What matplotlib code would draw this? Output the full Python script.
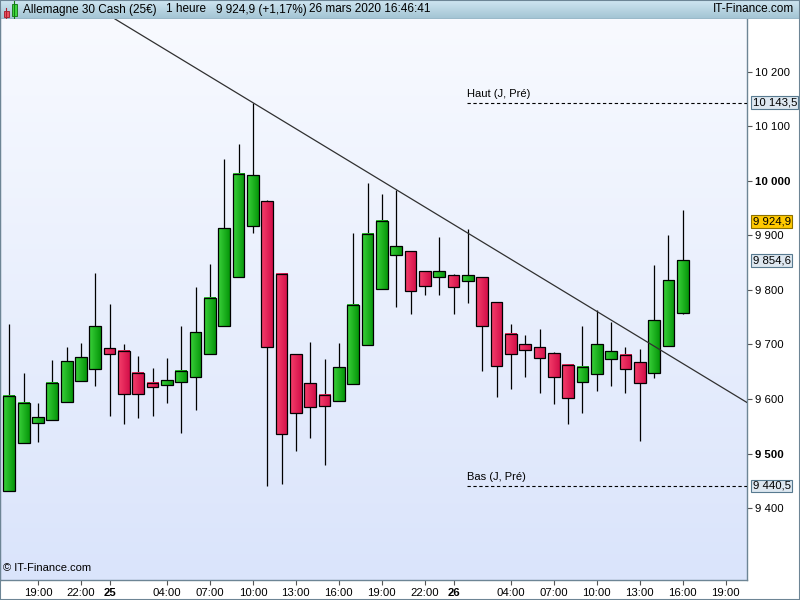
import matplotlib
matplotlib.use('Agg')
import matplotlib.pyplot as plt
import numpy as np
import pandas as pd
from matplotlib.patches import Rectangle
from matplotlib.colors import LinearSegmentedColormap
from matplotlib.transforms import blended_transform_factory

plt.rcParams['font.family'] = ['Liberation Sans', 'DejaVu Sans']

# ---------------- data ----------------
times = pd.date_range('2020-03-24 17:00', '2020-03-26 16:00', freq='h')
opens = [9431, 9519, 9556, 9562, 9595, 9633, 9655, 9694, 9688, 9648,
         9630, 9626, 9631, 9641, 9683, 9734, 9823, 9918, 9963, 9830,
         9683, 9630, 9608, 9597, 9628, 9699, 9802, 9865, 9872, 9835,
         9823, 9828, 9817, 9823, 9778, 9720, 9701, 9696, 9685, 9663,
         9631, 9646, 9674, 9681, 9668, 9648, 9698, 9758]
highs = [9737, 9647, 9593, 9671, 9696, 9702, 9832, 9775, 9700, 9678,
         9656, 9676, 9733, 9805, 9847, 10040, 10067, 10143.5, 9965, 9830,
         9683, 9704, 9674, 9702, 9904, 9996, 9976, 9984, 9872, 9835,
         9898, 9830, 9911, 9823, 9778, 9737, 9718, 9729, 9686, 9663,
         9733, 9764, 9742, 9696, 9692, 9846, 9900, 9946]
lows = [9431, 9519, 9522, 9562, 9595, 9633, 9623, 9568, 9555, 9565,
        9568, 9592, 9537, 9579, 9683, 9734, 9823, 9905, 9440.5, 9444,
        9504, 9528, 9479, 9597, 9628, 9699, 9802, 9769, 9756, 9791,
        9791, 9756, 9776, 9652, 9603, 9618, 9640, 9611, 9591, 9554,
        9575, 9615, 9623, 9611, 9523, 9639, 9698, 9756]
closes = [9606, 9593, 9567, 9630, 9670, 9677, 9733, 9683, 9609, 9609,
          9622, 9635, 9652, 9723, 9786, 9913, 10012, 10010, 9696, 9536,
          9575, 9586, 9587, 9659, 9773, 9903, 9927, 9880, 9799, 9808,
          9834, 9806, 9828, 9734, 9661, 9683, 9690, 9676, 9641, 9602,
          9659, 9701, 9688, 9655, 9630, 9745, 9819, 9854.6]

prev_high = 10143.5
prev_low = 9440.5
last_price = 9924.9
last_close = 9854.6
trend_anchor_idx = [17, 27]          # highs joined by the trendline
levels_start_time = pd.Timestamp('2020-03-26 00:57')

yticks = [9400, 9500, 9600, 9700, 9800, 9900, 10000, 10100, 10200]
bold_yticks = [9500, 10000]
xtick_times = ['2020-03-24 19:00', '2020-03-24 22:00', '2020-03-25 00:00',
               '2020-03-25 04:00', '2020-03-25 07:00', '2020-03-25 10:00',
               '2020-03-25 13:00', '2020-03-25 16:00', '2020-03-25 19:00',
               '2020-03-25 22:00', '2020-03-26 00:00', '2020-03-26 04:00',
               '2020-03-26 07:00', '2020-03-26 10:00', '2020-03-26 13:00',
               '2020-03-26 16:00', '2020-03-26 19:00']
xtick_labels = ['19:00', '22:00', '25', '04:00', '07:00', '10:00', '13:00',
                '16:00', '19:00', '22:00', '26', '04:00', '07:00', '10:00',
                '13:00', '16:00', '19:00']
bold_xlabels = ['25', '26']

title_parts = ['Allemagne 30 Cash (25€)', '1 heure', '9 924,9 (+1,17%)',
               '26 mars 2020 16:46:41']

# ---------------- figure ----------------
W, H = 800, 600
fig = plt.figure(figsize=(8, 6), dpi=100)
fig.patch.set_facecolor('white')

ax_left, ax_right = 0, 747
ax_top, ax_bottom = 19, 580
ax = fig.add_axes([ax_left / W, (H - ax_bottom) / H,
                   (ax_right - ax_left) / W, (ax_bottom - ax_top) / H])

t0 = times[0]
def tpos(t):
    return (pd.Timestamp(t) - t0) / pd.Timedelta(hours=1)

x = np.arange(len(times))
xlim = (-0.65, 51.48)
ylim = (9268, 10297)

bg_cmap = LinearSegmentedColormap.from_list('bg', ['#dae4fb', '#f8faff'])
ax.imshow(np.linspace(0, 1, 256).reshape(-1, 1), extent=[*xlim, *ylim],
          origin='lower', aspect='auto', cmap=bg_cmap, zorder=0)

green_cmap = LinearSegmentedColormap.from_list('g', ['#3ad23a', '#06960a'])
red_cmap = LinearSegmentedColormap.from_list('r', ['#f63f6c', '#d20f48'])
grad = np.linspace(0, 1, 32).reshape(1, -1)

bw = 0.82
ax.vlines(x, lows, highs, color='black', lw=0.9, zorder=2)
for i in range(len(x)):
    o, c = opens[i], closes[i]
    lo, hi = min(o, c), max(o, c)
    if hi - lo < 4:
        hi = lo + 4
    cm = green_cmap if c >= o else red_cmap
    ax.imshow(grad, extent=[x[i] - bw / 2, x[i] + bw / 2, lo, hi],
              aspect='auto', cmap=cm, zorder=3)
    ax.add_patch(Rectangle((x[i] - bw / 2, lo), bw, hi - lo, fill=False,
                           edgecolor='black', lw=0.9, zorder=4))

# trendline
i1, i2 = trend_anchor_idx
ax.axline((x[i1], highs[i1]), (x[i2], highs[i2]), color='#303030', lw=0.9,
          zorder=5)

# previous day high / low
xs = tpos(levels_start_time)
for lvl, lab in [(prev_high, 'Haut (J, Pré)'), (prev_low, 'Bas (J, Pré)')]:
    ax.plot([xs, xlim[1]], [lvl, lvl], color='black', lw=0.8,
            dashes=(3, 2.3), zorder=5)
    ax.annotate(lab, (xs, lvl), xytext=(0, 3), textcoords='offset points',
                fontsize=8, va='bottom', ha='left', color='black')

ax.set_xlim(*xlim)
ax.set_ylim(*ylim)

# axes styling
for s in ['left', 'right', 'bottom']:
    ax.spines[s].set_color('#6d8595')
    ax.spines[s].set_linewidth(1)
ax.spines['top'].set_visible(False)

ax.yaxis.tick_right()
ax.set_yticks(yticks)
ax.set_yticklabels([f'{v:,}'.replace(',', ' ') for v in yticks])
for lbl, v in zip(ax.get_yticklabels(), yticks):
    if v in bold_yticks:
        lbl.set_fontweight('bold')
        lbl.set_fontsize(8.6)
ax.tick_params(axis='y', direction='out', length=3.5, width=0.8,
               color='#555555', labelsize=8.2, pad=2)

ax.set_xticks([tpos(t) for t in xtick_times])
ax.set_xticklabels(xtick_labels)
for lbl in ax.get_xticklabels():
    if lbl.get_text() in bold_xlabels:
        lbl.set_fontweight('bold')
        lbl.set_fontsize(9)
ax.tick_params(axis='x', direction='out', length=3.5, width=0.8,
               color='#555555', labelsize=8.2, pad=2.5)

# right price boxes
ytr = blended_transform_factory(ax.transAxes, ax.transData)
box_style = dict(boxstyle='square,pad=0.12', fc='#dde7f0', ec='#587a90', lw=0.8)
for val in [prev_high, last_close, prev_low]:
    ax.text(1.0075, val, f'{val:,.1f}'.replace(',', ' ').replace('.', ','),
            transform=ytr, fontsize=8.2, va='center', ha='left',
            bbox=box_style, clip_on=False, zorder=6)
ax.text(1.0075, last_price, f'{last_price:,.1f}'.replace(',', ' ').replace('.', ','),
        transform=ytr, fontsize=8.2, va='center', ha='left',
        bbox=dict(boxstyle='square,pad=0.12', fc='#ffc800', ec='#8c7000', lw=0.8),
        clip_on=False, zorder=6)

ax.text(0.004, 0.012, '© IT-Finance.com', transform=ax.transAxes,
        fontsize=8, ha='left', va='bottom', color='black', zorder=6)

# ---------------- title bar ----------------
tb = fig.add_axes([0, (H - 19) / H, 1, 19 / H])
tb.set_xlim(0, W)
tb.set_ylim(19, 0)
tb_cmap = LinearSegmentedColormap.from_list('tb', ['#cfe6f1', '#a2c3d3'])
tb.imshow(np.linspace(0, 1, 64).reshape(-1, 1), extent=[0, W, 19, 0],
          origin='upper', aspect='auto', cmap=tb_cmap, zorder=0)
tb.plot([0, W], [18.5, 18.5], color='#7b95a4', lw=1)
tb.axis('off')
# icon
tb.plot([6, 6], [8, 19], color='#b02030', lw=0.8)
tb.add_patch(Rectangle((4, 11), 4.5, 6, fc='#ee5060', ec='#a01828', lw=0.6))
tb.plot([14, 14], [1, 18], color='#108010', lw=0.8)
tb.add_patch(Rectangle((12, 4), 4.5, 12, fc='#40d840', ec='#107010', lw=0.6))

title_x = [23, 166, 216, 309]
for xx, txt in zip(title_x, title_parts):
    tb.text(xx, 9.5, txt, fontsize=8.5, va='center', ha='left', color='black')
tb.text(794, 9.5, 'IT-Finance.com', fontsize=8.5, va='center', ha='right',
        color='black')

# outer border
fig.add_artist(Rectangle((0, 0), 1, 1, transform=fig.transFigure, fill=False,
                         ec='#6d8595', lw=1.5))

fig.savefig('out.png', dpi=100)
